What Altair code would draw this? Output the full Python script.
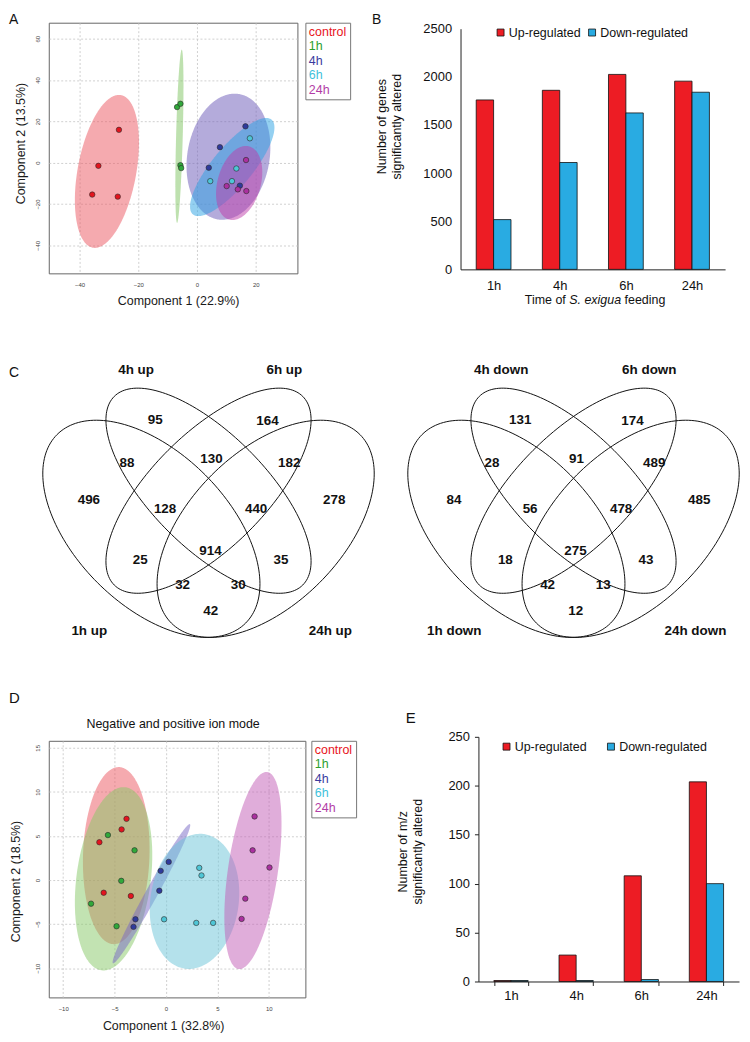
import numpy as np
import pandas as pd
import altair as alt

FONT = "Liberation Sans"

# ---------------- shared categories ----------------
groups = ["control", "1h", "4h", "6h", "24h"]
point_colors = ["#E3141E", "#30A83A", "#2F3A9C", "#4EC6D6", "#AA309F"]
label_colors = ["#E8141C", "#2CA02C", "#3A3A9E", "#3FC1DB", "#B23CA6"]

# ---------------- panel A : PCA transcriptome ----------------
a_group = ["control"] * 4 + ["1h"] * 4 + ["4h"] * 4 + ["6h"] * 4 + ["24h"] * 4
a_x = [-26.6, -33.6, -35.7, -27.0, -6.8, -5.65, -5.65, -5.4,
       16.5, 7.8, 4.0, 14.6, 18.0, 13.4, 4.5, 11.9, 16.7, 10.1, 13.9, 16.8]
a_y = [15.9, -1.5, -15.4, -16.4, 26.9, 28.5, -1.2, -2.6,
       17.6, 7.5, -2.4, -11.1, 11.8, -2.8, -8.9, -8.9, 1.3, -11.3, -12.9, -13.7]
a_ell_cx = [-30.7, -6.0, 10.7, 12.0, 14.35]
a_ell_cy = [-4.2, 12.8, 2.9, -2.1, -9.8]
a_ell_v1 = [(4.8, 36.9), (0.8, 41.9), (3.67, 30.3), (13.4, 22.9), (3.4, 17.7)]
a_ell_v2 = [(9.8, -2.6), (1.13, -0.04), (13.8, -3.4), (5.2, -6.2), (7.1, -2.7)]
a_ell_colors = ["#EB555F", "#7DC35F", "#6A58B8", "#2AA2E4", "#BE3CAA"]

# ---------------- panel D : PCA metabolome ----------------
d_group = ["control"] * 5 + ["1h"] * 5 + ["4h"] * 5 + ["6h"] * 5 + ["24h"] * 5
d_x = [-3.84, -4.32, -6.48, -6.06, -3.42,
       -5.65, -3.06, -4.35, -7.29, -4.81,
       -0.52, 0.26, -0.65, -2.97, -3.16,
       3.23, 3.45, -0.19, 2.94, 4.58,
       8.61, 8.42, 10.06, 7.71, 7.35]
d_y = [6.95, 5.75, 4.3, -1.43, -1.8,
       5.11, 3.38, -0.08, -2.67, -5.23,
       1.05, 2.07, -1.2, -4.44, -5.3,
       1.39, 0.53, -4.44, -4.85, -4.85,
       7.22, 3.38, 1.43, -2.1, -4.4]
d_ell_cx = [-4.84, -5.1, -1.42, 2.77, 8.45]
d_ell_cy = [2.78, 0.15, -1.54, -2.41, 1.09]
d_ell_v1 = [(0.27, 10.04), (1.16, 10.38), (3.74, 7.89), (0.94, 7.63), (1.40, 11.17)]
d_ell_v2 = [(3.23, -0.12), (3.58, -0.55), (0.51, -0.33), (4.25, -0.71), (2.40, -0.41)]
d_ell_colors = ["#EB555F", "#86C766", "#7868C6", "#69C3D7", "#C25CB6"]

# ---------------- panels B and E : bars ----------------
times = ["1h", "4h", "6h", "24h"]
series = ["Up-regulated", "Down-regulated"]
bar_colors = ["#ED1C24", "#29ABE2"]
genes_up = [1760, 1860, 2025, 1955]
genes_down = [517, 1110, 1625, 1840]
mz_up = [1, 27, 108, 204]
mz_down = [1, 1, 2, 100]

# ---------------- panel C : Venn diagrams ----------------
up_sets = ["1h up", "4h up", "6h up", "24h up"]
down_sets = ["1h down", "4h down", "6h down", "24h down"]
venn_cx = [0.35, 0.50, 0.50, 0.65]
venn_cy = [0.47, 0.57, 0.57, 0.47]
venn_a = [0.35, 0.35, 0.35, 0.35]
venn_b = [0.20, 0.15, 0.15, 0.20]
venn_rot = [-45, -45, 45, 45]
venn_nx = [0.360, 0.655, 0.286, 0.508, 0.712, 0.186, 0.386, 0.625, 0.830,
           0.321, 0.505, 0.690, 0.432, 0.578, 0.506]
venn_ny = [0.755, 0.753, 0.643, 0.653, 0.643, 0.545, 0.521, 0.521, 0.545,
           0.388, 0.412, 0.388, 0.323, 0.323, 0.253]
up_counts = [95, 164, 88, 130, 182, 496, 128, 440, 278, 25, 914, 35, 32, 30, 42]
down_counts = [131, 174, 28, 91, 489, 84, 56, 478, 485, 18, 275, 43, 42, 13, 12]
cat_nx = [0.187, 0.310, 0.699, 0.820]
cat_ny = [0.201, 0.888, 0.888, 0.201]
venn_ydom = [-0.0604, 1.1145]


def ellipse_band(cxs, cys, v1s, v2s, shades, n=140):
    rows = []
    for g, cx, cy, (v1x, v1y), (v2x, v2y), sh in zip(groups, cxs, cys, v1s, v2s, shades):
        rx = float(np.hypot(v1x, v2x))
        phi = float(np.arctan2(v2x, v1x))
        for s in np.linspace(0.0, np.pi, n):
            t1, t2 = phi + s, phi - s
            rows.append({"group": g, "shade": sh, "x": cx + rx * np.cos(s),
                         "y": cy + v1y * np.cos(t1) + v2y * np.sin(t1),
                         "y2": cy + v1y * np.cos(t2) + v2y * np.sin(t2)})
    return pd.DataFrame(rows)


def text_layer(t, x, y, size=14, align="left", baseline="alphabetic",
               weight="normal", style="normal"):
    return alt.Chart(alt.Data(values=[{"t": t}])).mark_text(
        fontSize=size, align=align, baseline=baseline, fontWeight=weight,
        fontStyle=style, color="#111"
    ).encode(text="t:N", x=alt.value(x), y=alt.value(y))


label_expr = " : ".join(
    f"datum.label == '{g}' ? '{c}'" for g, c in zip(groups, label_colors)
) + " : '#111'"


def pca_panel(px, py, pg, ell_df, xdom, ydom, xticks, yticks, w, h,
              xtitle, ytitle, xt, yt, leg_offset, extras):
    xs = alt.Scale(domain=xdom, nice=False, zero=False)
    ys = alt.Scale(domain=ydom, nice=False, zero=False)
    base = dict(domain=False, ticks=False, grid=True, gridColor="#c4c4c4",
                gridDash=[2, 2], gridWidth=0.8, labelFontSize=6, labelColor="#444",
                labelPadding=8, titleFontSize=12.5, titleFontWeight="normal",
                titleColor="#1a1a1a", titleAlign="center", titleBaseline="middle")
    xaxis = alt.Axis(values=xticks, title=xtitle, titleX=xt[0], titleY=xt[1], **base)
    yaxis = alt.Axis(values=yticks, title=ytitle, titleX=yt[0], titleY=yt[1],
                     titleAngle=270, labelAngle=270, labelAlign="center",
                     labelBaseline="bottom", **base)
    areas = alt.Chart(ell_df).mark_area(fillOpacity=0.5, strokeWidth=0).encode(
        x=alt.X("x:Q", scale=xs, axis=xaxis),
        y=alt.Y("y:Q", scale=ys, axis=yaxis),
        y2="y2:Q",
        color=alt.Color("shade:N", scale=None),
        detail="group:N",
    )
    pts = pd.DataFrame({"x": px, "y": py, "group": pg})
    leg = alt.Legend(title=None, orient="right", offset=leg_offset, padding=3,
                     strokeColor="#777", labelFontSize=12.5,
                     labelOffset=alt.ExprRef(expr="-12"),
                     symbolSize=0, symbolStrokeWidth=0, symbolOpacity=0,
                     rowPadding=1.5, labelColor=alt.ExprRef(expr=label_expr))
    points = alt.Chart(pts).mark_circle(size=30, opacity=1, stroke="#2a2a2a",
                                        strokeWidth=0.6).encode(
        x=alt.X("x:Q", scale=xs, axis=xaxis),
        y=alt.Y("y:Q", scale=ys, axis=yaxis),
        fill=alt.Fill("group:N", scale=alt.Scale(domain=groups, range=point_colors),
                      legend=leg),
    )
    return alt.layer(areas, points, *extras).properties(
        width=w, height=h, view=alt.ViewBackground(stroke="#666", strokeWidth=1))


def bar_df(up, down):
    return pd.DataFrame({"time": times * 2,
                         "series": [series[0]] * 4 + [series[1]] * 4,
                         "value": up + down})


def bar_panel(df, xrange, ydom, yrange, yticks, ytitle, yt, yoffset, ticks,
              legx, legy, colpad, w, h, extras):
    xscale = alt.Scale(paddingInner=0.474, paddingOuter=0.237)
    if xrange is not None:
        xscale = alt.Scale(paddingInner=0.474, paddingOuter=0.237, range=xrange)
    xaxis = alt.Axis(title=None, labelAngle=0, ticks=ticks, tickSize=4,
                     tickColor="#222", tickBand="extent", domainColor="#222",
                     labelFontSize=13, labelPadding=10 if not ticks else 4,
                     labelColor="#111")
    yaxis = alt.Axis(values=yticks, format="d", grid=False, ticks=ticks, tickSize=4,
                     tickColor="#222", domainColor="#222", labelFontSize=13,
                     labelPadding=9 if not ticks else 5, labelColor="#111",
                     offset=yoffset, title=ytitle, titleFontSize=12.5,
                     titleFontWeight="normal", titleColor="#111", titleAngle=270,
                     titleX=yt[0], titleY=yt[1], titleAlign="center",
                     titleBaseline="middle", titleLineHeight=15)
    leg = alt.Legend(title=None, orient="none", legendX=legx, legendY=legy,
                     direction="horizontal", symbolType="square", symbolSize=49,
                     symbolStrokeColor="#111", symbolStrokeWidth=0.8,
                     labelFontSize=12.5, labelOffset=2, columnPadding=colpad,
                     padding=0, labelColor="#111")
    bars = alt.Chart(df).mark_bar(stroke="#111", strokeWidth=0.8).encode(
        x=alt.X("time:N", sort=times, scale=xscale, axis=xaxis),
        xOffset=alt.XOffset("series:N", sort=series),
        y=alt.Y("value:Q", scale=alt.Scale(domain=ydom, range=yrange, nice=False),
                axis=yaxis),
        color=alt.Color("series:N", sort=series,
                        scale=alt.Scale(domain=series, range=bar_colors), legend=leg),
    )
    return alt.layer(bars, *extras).properties(width=w, height=h)


def venn_outline(names):
    rows = []
    for name, cx, cy, a, b, rot in zip(names, venn_cx, venn_cy, venn_a, venn_b, venn_rot):
        th = np.radians(rot)
        for k, t in enumerate(np.linspace(0, 2 * np.pi, 181)):
            rows.append({"set": name, "k": k,
                         "x": cx + a * np.cos(t) * np.cos(th) - b * np.sin(t) * np.sin(th),
                         "y": cy + a * np.cos(t) * np.sin(th) + b * np.sin(t) * np.cos(th)})
    return pd.DataFrame(rows)


def venn_panel(counts, cats, xdom, w, extras):
    xs = alt.Scale(domain=xdom, nice=False, zero=False)
    ys = alt.Scale(domain=venn_ydom, nice=False, zero=False)
    lines = alt.Chart(venn_outline(cats)).mark_line(color="#111", strokeWidth=1).encode(
        x=alt.X("x:Q", scale=xs, axis=None), y=alt.Y("y:Q", scale=ys, axis=None),
        detail="set:N", order="k:Q")
    regions = alt.Chart(pd.DataFrame({"x": venn_nx, "y": venn_ny, "n": counts})).mark_text(
        fontSize=13.5, fontWeight="bold", color="#111", baseline="middle").encode(
        x=alt.X("x:Q", scale=xs, axis=None), y=alt.Y("y:Q", scale=ys, axis=None),
        text="n:N")
    catl = alt.Chart(pd.DataFrame({"x": cat_nx, "y": cat_ny, "c": cats})).mark_text(
        fontSize=13.5, fontWeight="bold", color="#111", baseline="middle").encode(
        x=alt.X("x:Q", scale=xs, axis=None), y=alt.Y("y:Q", scale=ys, axis=None),
        text="c:N")
    return alt.layer(lines, regions, catl, *extras).properties(width=w, height=450)


a_chart = pca_panel(a_x, a_y, a_group,
                    ellipse_band(a_ell_cx, a_ell_cy, a_ell_v1, a_ell_v2, a_ell_colors),
                    [-50.5, 34.2], [-53.5, 67.7], [-40, -20, 0, 20],
                    [-40, -20, 0, 20, 40, 60], 250, 252,
                    "Component 1 (22.9%)", "Component 2 (13.5%)",
                    (130, 27), (-28, 121), 8,
                    [text_layer("A", -40, 1, size=14)])

d_chart = pca_panel(d_x, d_y, d_group,
                    ellipse_band(d_ell_cx, d_ell_cy, d_ell_v1, d_ell_v2, d_ell_colors),
                    [-11.4, 13.55], [-13.3, 15.8], [-10, -5, 0, 5, 10],
                    [-10, -5, 0, 5, 10, 15], 258, 258,
                    "Component 1 (32.8%)", "Component 2 (18.5%)",
                    (115, 28), (-33, 141), 6,
                    [text_layer("D", -40, -38, size=15),
                     text_layer("Negative and positive ion mode", 125, -17, size=12.5,
                                align="center", baseline="middle")])

b_chart = bar_panel(bar_df(genes_up, genes_down), None, [0, 2500], [248, 6],
                    [0, 500, 1000, 1500, 2000, 2500],
                    ["Number of genes", "significantly altered"], (-79.5, 104), 0, False,
                    34, 3.5, 5, 266, 248,
                    [text_layer("B", -89, 1, size=14),
                     text_layer("Time of", 105.8, 279, size=12.5, align="right",
                                baseline="middle"),
                     text_layer("S. exigua", 109.3, 279, size=12.5, baseline="middle",
                                style="italic"),
                     text_layer("feeding", 164.9, 279, size=12.5, baseline="middle")])

e_chart = bar_panel(bar_df(mz_up, mz_down), [18, 280], [0, 250], [242, -4],
                    [0, 50, 100, 150, 200, 250],
                    ["Number of m/z", "significantly altered"], (-76, 111), -18, True,
                    40, -0.5, 18, 280, 242,
                    [text_layer("E", -55, -18, size=15)])

venn_left = venn_panel(up_counts, up_sets, [0.0807, 0.7543], 258,
                       [text_layer("C", -40, 94, size=14)])
venn_right = venn_panel(down_counts, down_sets, [0.2034, 0.9345], 280, [])

chart = alt.concat(
    a_chart, b_chart, venn_left, venn_right, d_chart, e_chart,
    columns=2, spacing={"row": 10, "column": 156}, bounds="flush", align="each",
).resolve_scale(
    color="independent", fill="independent", xOffset="independent"
).resolve_legend(
    color="independent", fill="independent"
).properties(
    padding={"left": 0, "top": 1, "right": 0, "bottom": 0}
).configure(font=FONT).configure_view(stroke="transparent")

chart.save("out.html", embed_options={"renderer": "svg", "actions": False})
